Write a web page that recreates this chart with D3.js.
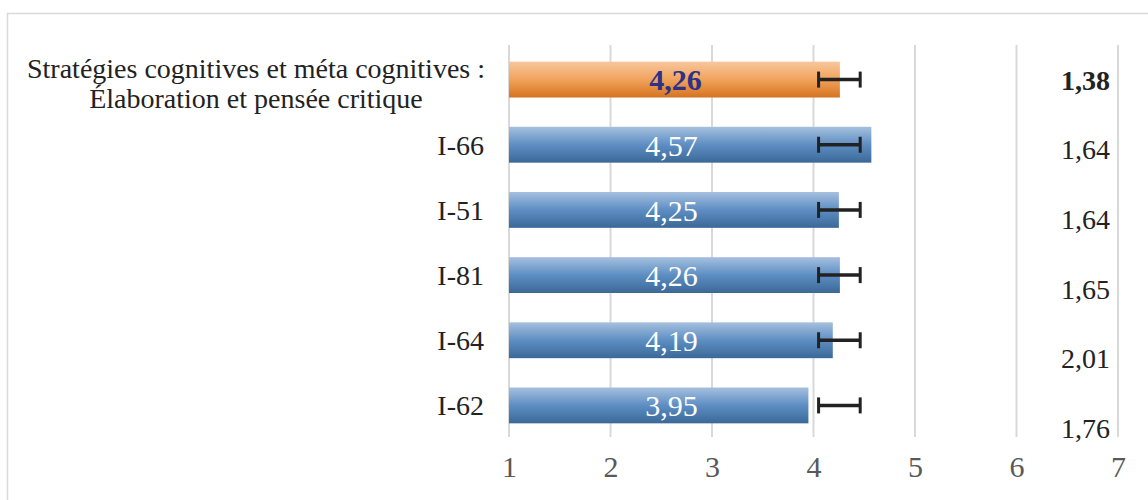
<!DOCTYPE html>
<html>
<head>
<meta charset="utf-8">
<script src="https://cdn.jsdelivr.net/npm/d3@7"></script>
<style>
  body { margin: 0; background: #fff; }
  text { font-family: "Liberation Serif", "Times New Roman", serif; }
</style>
</head>
<body>
<script>
	// data
	var categories = ["Stratégies cognitives et méta cognitives :|Élaboration et pensée critique", "I-66", "I-51", "I-81", "I-64", "I-62"];
	var means = [4.26, 4.57, 4.25, 4.26, 4.19, 3.95];
	var errLow = [4.05, 4.05, 4.05, 4.05, 4.05, 4.05];
	var errHigh = [4.46, 4.46, 4.46, 4.46, 4.46, 4.46];
	var sdLabels = ["1,38", "1,64", "1,64", "1,65", "2,01", "1,76"];
	var xTicks = [1, 2, 3, 4, 5, 6, 7];
	var labelPos = 2.6; // data labels sit at about the same spot in every bar

	var svg_w = 1148;
	var svg_h = 500;
	var svg = d3.select("body").append("svg")
		.attr("width", svg_w)
		.attr("height", svg_h);

	// chart frame
	svg.append("rect")
		.attr("x", 7.5).attr("y", 13.5)
		.attr("width", 1160).attr("height", 520)
		.attr("fill", "none")
		.attr("stroke", "#d9d9d9")
		.attr("stroke-width", 1.5);

	var x = d3.scaleLinear().domain([1, 7]).range([509, 1118]);
	var y = d3.scaleBand().domain(d3.range(categories.length)).range([47, 438]).paddingInner(0.45).paddingOuter(0.225);
	var ySd = d3.scalePoint().domain(d3.range(sdLabels.length)).range([80, 428]);

	// gradients
	var defs = svg.append("defs");
	var gBlue = defs.append("linearGradient").attr("id", "gBlue").attr("x1", 0).attr("y1", 0).attr("x2", 0).attr("y2", 1);
	gBlue.append("stop").attr("offset", "0%").attr("stop-color", "#a6c0de");
	gBlue.append("stop").attr("offset", "50%").attr("stop-color", "#5d8ec3");
	gBlue.append("stop").attr("offset", "100%").attr("stop-color", "#3b6897");
	var gOrange = defs.append("linearGradient").attr("id", "gOrange").attr("x1", 0).attr("y1", 0).attr("x2", 0).attr("y2", 1);
	gOrange.append("stop").attr("offset", "0%").attr("stop-color", "#f8c79c");
	gOrange.append("stop").attr("offset", "50%").attr("stop-color", "#f0a35c");
	gOrange.append("stop").attr("offset", "100%").attr("stop-color", "#d6731f");

	// gridlines
	svg.append("g")
		.selectAll("line")
		.data(xTicks)
		.enter()
		.append("line")
		.attr("x1", d => x(d)).attr("x2", d => x(d))
		.attr("y1", 45).attr("y2", 437)
		.attr("stroke", "#d9d9d9")
		.attr("stroke-width", 2);

	// x axis labels
	var xAxis = svg.append("g")
		.attr("transform", "translate(0,437)")
		.call(d3.axisBottom(x).tickValues(xTicks).tickSize(0).tickPadding(19).tickFormat(d3.format("d")));
	xAxis.select(".domain").remove();
	xAxis.selectAll("text")
		.attr("font-size", 30)
		.attr("fill", "#595959")
		.style("font-family", "Liberation Serif, serif");

	// bars
	svg.append("g")
		.selectAll("rect")
		.data(means)
		.enter()
		.append("rect")
		.attr("x", x(1))
		.attr("y", (d, i) => y(i))
		.attr("width", d => x(d) - x(1))
		.attr("height", y.bandwidth())
		.attr("fill", (d, i) => i == 0 ? "url(#gOrange)" : "url(#gBlue)");

	// value labels
	svg.append("g")
		.selectAll("text")
		.data(means)
		.enter()
		.append("text")
		.attr("x", (d, i) => x(labelPos) + (i == 0 ? 4 : 0))
		.attr("y", (d, i) => y(i) + y.bandwidth() / 2)
		.attr("dy", "0.36em")
		.attr("text-anchor", "middle")
		.attr("font-size", 30)
		.attr("font-weight", (d, i) => i == 0 ? "bold" : "normal")
		.attr("fill", (d, i) => i == 0 ? "#2e3188" : "#ffffff")
		.text(d => d3.format(".2f")(d).replace(".", ","));

	// error bars
	var err = svg.append("g").attr("stroke", "#222").attr("fill", "none");
	means.forEach(function(d, i) {
		var cy = y(i) + y.bandwidth() / 2;
		err.append("line")
			.attr("x1", x(errLow[i])).attr("x2", x(errHigh[i]))
			.attr("y1", cy).attr("y2", cy)
			.attr("stroke-width", 3.5);
		[errLow[i], errHigh[i]].forEach(function(v) {
			err.append("line")
				.attr("x1", x(v)).attr("x2", x(v))
				.attr("y1", cy - 8).attr("y2", cy + 8)
				.attr("stroke-width", 3);
		});
	});

	// category labels
	var catG = svg.append("g");
	categories.forEach(function(c, i) {
		var cy = y(i) + y.bandwidth() / 2;
		var parts = c.split("|");
		if (parts.length > 1) {
			var t = catG.append("text")
				.attr("text-anchor", "middle")
				.attr("font-size", 28)
				.attr("fill", "#222");
			parts.forEach(function(p, k) {
				t.append("tspan")
					.attr("x", 256)
					.attr("y", cy - 11 + k * 30)
					.attr("dy", "0.35em")
					.text(p);
			});
		} else {
			catG.append("text")
				.attr("x", 484)
				.attr("y", cy)
				.attr("dy", "0.35em")
				.attr("text-anchor", "end")
				.attr("font-size", 28)
				.attr("fill", "#222")
				.text(c);
		}
	});

	// sd labels on the right
	svg.append("g")
		.selectAll("text")
		.data(sdLabels)
		.enter()
		.append("text")
		.attr("x", 1110)
		.attr("y", (d, i) => ySd(i))
		.attr("dy", "0.35em")
		.attr("text-anchor", "end")
		.attr("font-size", 28)
		.attr("font-weight", (d, i) => i == 0 ? "bold" : "normal")
		.attr("fill", "#222")
		.text(d => d);
</script>
</body>
</html>
